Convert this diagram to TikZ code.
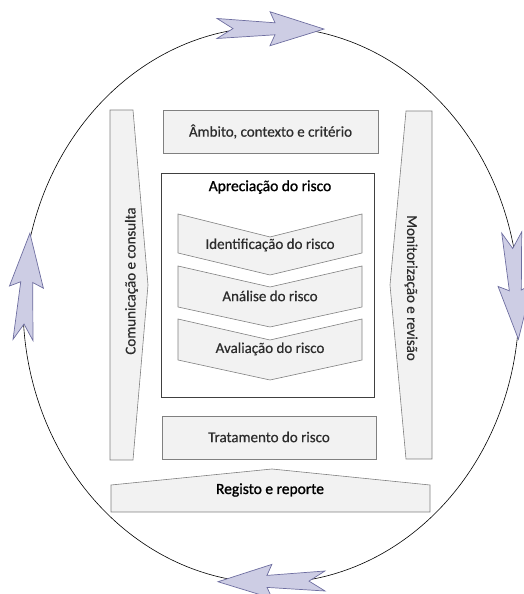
\documentclass[tikz,border=0pt]{standalone}
\usepackage{fontspec}
\setmainfont{Carlito}
\newfontfamily\lblfont{Carlito}[FakeBold=0.5]
\newfontfamily\headfont{Carlito}[FakeBold=1.2]
\definecolor{arrfill}{RGB}{205,205,228}
\definecolor{arrdraw}{RGB}{110,110,160}
\definecolor{boxfill}{RGB}{242,242,242}
\definecolor{boxdraw}{RGB}{128,128,128}
\definecolor{txt}{RGB}{45,45,45}
\begin{document}
\begin{tikzpicture}[x=1pt,y=1pt,
  panel/.style={draw=boxdraw,fill=boxfill,line width=0.6pt},
  outerbox/.style={draw=black!75,line width=0.7pt},
  lbl/.style={text=txt,font=\lblfont\fontsize{15}{17}\selectfont,inner sep=0pt},
  head/.style={text=black,font=\headfont\fontsize{15.5}{17}\selectfont,inner sep=0pt},
  cycle/.style={draw=black,line width=0.6pt},
  arrowsty/.style={draw=arrdraw,fill=arrfill,line width=0.7pt,line join=miter},
  cycarrow/.pic={\draw[arrowsty] (0,10) -- (16,0) -- (0,-10) -- (58,-6) -- (53,-17) -- (107,0) -- (53,17) -- (58,6) -- cycle;}
]
\useasboundingbox (0,0) rectangle (524,594);
% outer cycle
\draw[cycle] (271,289) ellipse [x radius=248, y radius=278];
% arrows on the cycle
\pic[rotate=-0.3] at (217,565.5) {cycarrow};
\pic[rotate=-86.4] at (511.7,361.5) {cycarrow};
\pic[rotate=180.4] at (325,13) {cycarrow};
\pic[rotate=86.3] at (23,254) {cycarrow};
% side panels
\draw[panel] (110,484) -- (133,484) -- (148,309) -- (133,134) -- (110,134) -- cycle;
\draw[panel] (406,483) -- (432,483) -- (432,135) -- (406,135) -- (390,309) -- cycle;
\node[lbl,rotate=90] (com) at (131.5,313) {Comunicação e consulta};
\node[lbl,rotate=-90] (mon) at (411,306) {Monitorização e revisão};
% top box
\draw[panel] (163,441) rectangle (378,484);
\node[lbl] (amb) at (270.5,462.5) {Âmbito, contexto e critério};
% appreciation box
\draw[outerbox] (161,197) rectangle (374,421);
\node[head] (apr) at (270,407) {Apreciação do risco};
% chevrons
\draw[panel] (178,380) -- (270,357) -- (362,380) -- (362,341) -- (270,319) -- (178,341) -- cycle;
\draw[panel] (178,328) -- (270,307) -- (362,328) -- (362,287) -- (270,267) -- (178,287) -- cycle;
\draw[panel] (178,275) -- (270,254) -- (362,275) -- (362,234) -- (270,214) -- (178,234) -- cycle;
\node[lbl] (ide) at (270,349) {Identificação do risco};
\node[lbl] (ana) at (270,298) {Análise do risco};
\node[lbl] (ava) at (270,245) {Avaliação do risco};
% treatment
\draw[panel] (162,135) rectangle (376,178);
\node[lbl] (tra) at (269,157) {Tratamento do risco};
% registo
\draw[panel] (111,109) -- (272,125) -- (430,109) -- (430,82) -- (111,82) -- cycle;
\node[head] (reg) at (270,104) {Registo e reporte};
\end{tikzpicture}
\end{document}
